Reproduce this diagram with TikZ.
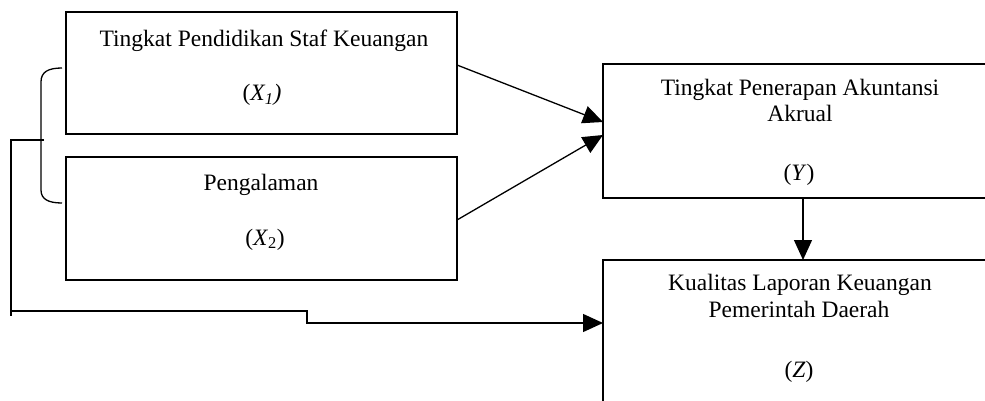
\documentclass[tikz,border=0pt]{standalone}
\usepackage{fontspec}
\setmainfont{Liberation Serif}
\usetikzlibrary{arrows.meta}
\begin{document}
\begin{tikzpicture}[x=1pt,y=-1pt,
  box/.style={draw, line width=1.3pt, inner sep=0pt},
  lbl/.style={anchor=base, inner sep=0pt, font=\fontsize{23.5}{27}\selectfont},
  ln/.style={line width=1.3pt},
  arr/.style={line width=1.3pt, -{Triangle[length=20pt,width=18pt]}}]
\useasboundingbox (0,0) rectangle (985,401);
\clip (0,0) rectangle (985,401);
% boxes
\node[box, minimum width=391pt, minimum height=122pt] (x1) at (261.5,73) {};
\node[box, minimum width=391pt, minimum height=123pt] (x2) at (261.5,218.5) {};
\node[box, minimum width=394pt, minimum height=134pt] (y) at (800,131) {};
\node[box, minimum width=394pt, minimum height=180pt] (z) at (800,350) {};
% texts
\node[lbl] (t1) at (264,47) {Tingkat Pendidikan Staf Keuangan};
\node[lbl] (t1b) at (262,101) {(\textit{X\textsubscript{1})}};
\node[lbl] (t2) at (261,190) {Pengalaman};
\node[lbl] (t2b) at (265,245) {(\textit{X}\textsubscript{2})};
\node[lbl] (t3) at (800,96) {Tingkat Penerapan Akuntansi};
\node[lbl] (t3a) at (800,122) {Akrual};
\node[lbl] (t3b) at (799,180) {(\textit{Y})};
\node[lbl] (t4) at (800,290) {Kualitas Laporan Keuangan};
\node[lbl] (t4a) at (799,317) {Pemerintah Daerah};
\node[lbl] (t4b) at (799,377) {(\textit{Z})};
% connector points
\coordinate (x1out) at (457,65);
\coordinate (x2out) at (457,220);
\coordinate (yin1) at (603,122);
\coordinate (yin2) at (603,135);
\coordinate (yout) at (803,198);
\coordinate (zin) at (803,260);
\coordinate (bt) at (62,68);
\coordinate (bb) at (62,203);
\coordinate (tickr) at (44,140);
\coordinate (tickl) at (11,140);
\coordinate (vend) at (11,316);
\coordinate (h1) at (11,311);
\coordinate (s1) at (307,311);
\coordinate (s2) at (307,323);
\coordinate (zleft) at (603,323);
% arrows
\draw[arr] (x1out) -- (yin1);
\draw[arr] (x2out) -- (yin2);
\draw[arr] (yout) -- (zin);
% bracket
\draw[ln] (bt) .. controls (48,68) and (41,72) .. (41,82) -- (41,190) .. controls (41,199) and (48,203) .. (bb);
\draw[ln] (tickr) -- (tickl) -- (vend);
\draw[arr] (h1) -- (s1) -- (s2) -- (zleft);
\end{tikzpicture}
\end{document}
